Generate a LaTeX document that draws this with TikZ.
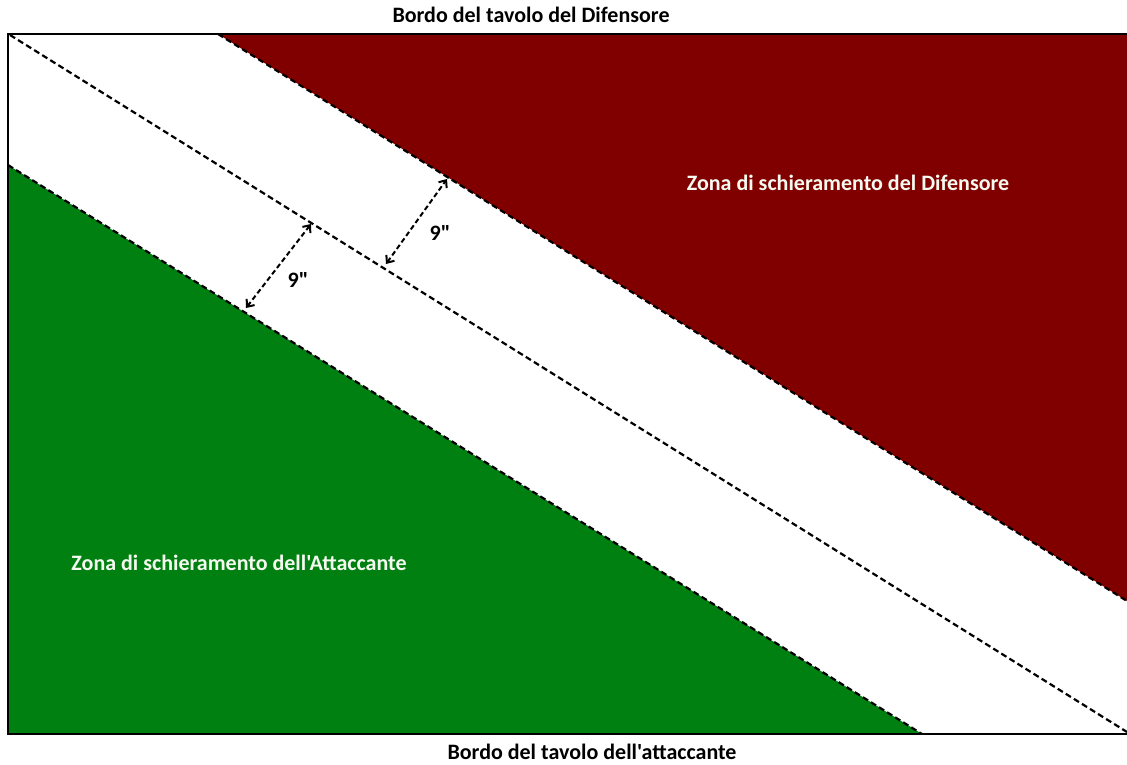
\documentclass[tikz,border=0pt]{standalone}
\usepackage{fontspec}
\setmainfont{Carlito}[Ligatures=TeXOff]
\usetikzlibrary{arrows.meta}
\definecolor{defred}{RGB}{128,0,0}
\definecolor{attgreen}{RGB}{0,128,16}
\definecolor{paletext}{RGB}{245,250,240}
\tikzset{
  frameline/.style={line width=2.4pt, black},
  zoneline/.style={line width=2.2pt, dash pattern=on 6pt off 3.5pt, black},
  measure/.style={line width=2pt, dash pattern=on 5pt off 3pt, black, {Straight Barb[length=6pt,width=10pt]}-{Straight Barb[length=6pt,width=10pt]}},
  title/.style={font=\bfseries\fontsize{22}{24}\selectfont, text=black},
  zonelabel/.style={font=\bfseries\fontsize{22}{24}\selectfont, text=paletext},
  dist/.style={font=\bfseries\fontsize{22}{24}\selectfont, text=black}
}
\begin{document}
\begin{tikzpicture}[x=1pt,y=-1pt]
\useasboundingbox (0,0) rectangle (1127,765);
% corners
\coordinate (TL) at (8,34);
\coordinate (TR) at (1127,34);
\coordinate (BL) at (8,734);
\coordinate (BR) at (1127,734);
% zone boundaries
\coordinate (R1) at (218,34);
\coordinate (R2) at (1127,601);
\coordinate (M1) at (10,35);
\coordinate (M2) at (1127,732);
\coordinate (G1) at (8,165);
\coordinate (G2) at (922,734);
% fills
\fill[defred] (R1) -- (TR) -- (R2) -- cycle;
\fill[attgreen] (G1) -- (G2) -- (BL) -- cycle;
% dashed boundaries
\draw[zoneline] (R1) -- (R2);
\draw[zoneline] (M1) -- (M2);
\draw[zoneline] (G1) -- (G2);
% frame
\draw[frameline] (TR) -- (TL) -- (BL) -- (BR);
% measurements
\coordinate (a1) at (246,308);
\coordinate (a2) at (311,224);
\coordinate (b1) at (386,264);
\coordinate (b2) at (447,179);
\draw[measure] (a1) -- (a2);
\draw[measure] (b1) -- (b2);
\node[dist] (d1) at (298,280) {9"};
\node[dist] (d2) at (440,233) {9"};
% labels
\node[title] (top) at (531,15) {Bordo del tavolo del Difensore};
\node[title] (bottom) at (592,752) {Bordo del tavolo dell'attaccante};
\node[zonelabel] (defz) at (848,183) {Zona di schieramento del Difensore};
\node[zonelabel] (attz) at (239,563) {Zona di schieramento dell'Attaccante};
\end{tikzpicture}
\end{document}
